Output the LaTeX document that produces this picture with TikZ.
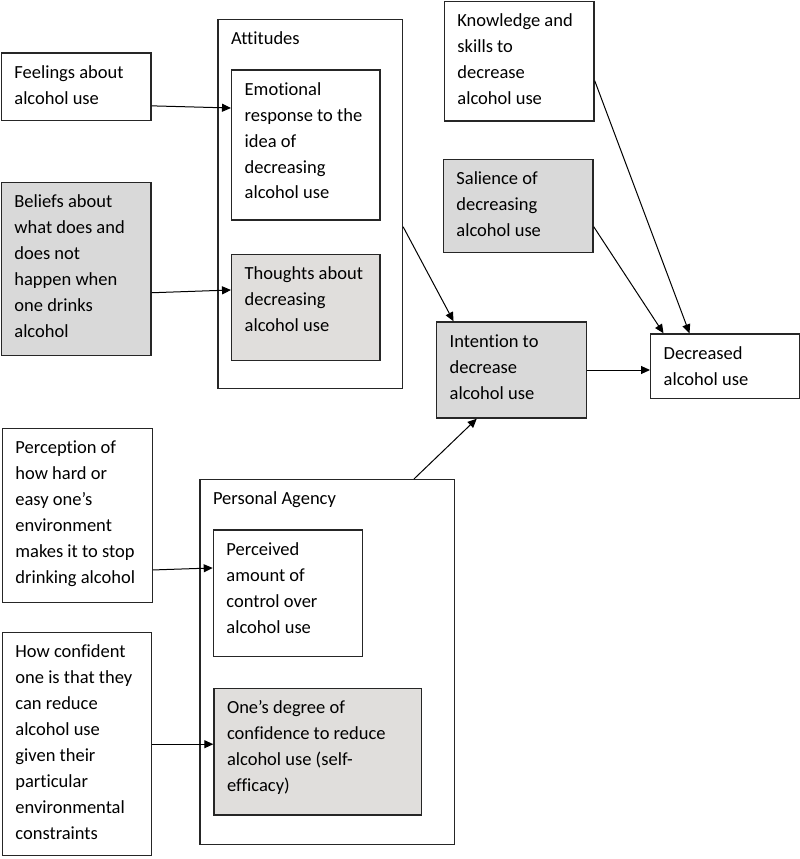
\documentclass[tikz,border=0pt]{standalone}
\usepackage{fontspec}
\setmainfont{Carlito}[Ligatures={NoCommon,TeX}]
\usetikzlibrary{arrows.meta}

\definecolor{edge}{RGB}{38,38,38}
\definecolor{grayA}{RGB}{217,217,217}
\definecolor{grayB}{RGB}{224,222,220}

\tikzset{
  every node/.style={font=\fontsize{18.5}{26}\selectfont},
  box/.style 2 args={draw=edge, line width=1.4pt, fill=white, anchor=north west,
    inner xsep=13pt, inner ysep=0pt,
    execute at begin node={\begin{minipage}[t][#2pt][t]{\dimexpr#1pt-26pt\relax}\raggedright\rule{0pt}{25pt}},
    execute at end node={\end{minipage}}},
  shadeA/.style={fill=grayA},
  shadeB/.style={fill=grayB},
  arr/.style={-{Triangle[length=9pt,width=8pt]}, line width=1pt, black}
}

\begin{document}
\begin{tikzpicture}[x = 1pt, y = -1pt]
    \useasboundingbox (0,0) rectangle (800,859);
    % containers
    \node[box={184.4}{368.7}] (att) at (217.3,19) {Attitudes};
    \node[box={254.7}{365}] (agency) at (199.3,479) {Personal Agency};
    % left column
    \node[box={149.6}{67.7}] (feel) at (0.7,52.3) {Feelings about\\alcohol use};
    \node[box={149.6}{173.3}, shadeA] (belief) at (0.7,181.7) {Beliefs about\\what does and\\does not\\happen when\\one drinks\\alcohol};
    \node[box={150}{174.3}] (percep) at (1.7,427.7) {Perception of\\how hard or\\easy one’s\\environment\\makes it to stop\\drinking alcohol};
    \node[box={149}{223}] (conf) at (1.7,632) {How confident\\one is that they\\can reduce\\alcohol use\\given their\\particular\\environmental\\constraints};
    % inner boxes
    \node[box={148.3}{150}] (emo) at (231,69.3) {Emotional\\response to the\\idea of\\decreasing\\alcohol use};
    \node[box={148.3}{106}, shadeB] (thought) at (231,254) {Thoughts about\\decreasing\\alcohol use};
    \node[box={149.3}{126.7}] (perceived) at (212.7,529.3) {Perceived\\amount of\\control over\\alcohol use};
    \node[box={207.7}{126.3}, shadeB] (degree) at (213.3,688) {One’s degree of\\confidence to reduce\\alcohol use (self-\\efficacy)};
    % right side
    \node[box={149.6}{119.6}] (know) at (443.7,0.7) {Knowledge and\\skills to\\decrease\\alcohol use};
    \node[box={149.6}{93}, shadeA] (sal) at (442.7,159) {Salience of\\decreasing\\alcohol use};
    \node[box={149.7}{96}, shadeA] (intent) at (436,321.3) {Intention to\\decrease\\alcohol use};
    \node[box={149}{64.4}] (dec) at (650,333.3) {Decreased\\alcohol use};

    \draw[arr] ([yshift=-19pt]feel.east) -- ([yshift=37pt]emo.west);
    \draw[arr] ([yshift=-23.7pt]belief.east) -- ([yshift=17.7pt]thought.west);
    \draw[arr] ([yshift=-54.4pt]percep.east) -- ([yshift=25.4pt]perceived.west);
    \draw[arr] (conf.east) -- (degree.west |- conf.east);
    \draw[arr] ([yshift=-22.7pt]att.east) -- ([xshift=-58pt]intent.north);
    \draw[arr] ([xshift=86.6pt]agency.north) -- ([xshift=-34.8pt]intent.south);
    \draw[arr] (intent.east) -- (dec.west |- intent.east);
    \draw[arr] ([yshift=-19.5pt]know.east) -- ([xshift=-35.7pt]dec.north);
    \draw[arr] ([yshift=-20.5pt]sal.east) -- ([xshift=-61.7pt]dec.north);
\end{tikzpicture}
\end{document}
